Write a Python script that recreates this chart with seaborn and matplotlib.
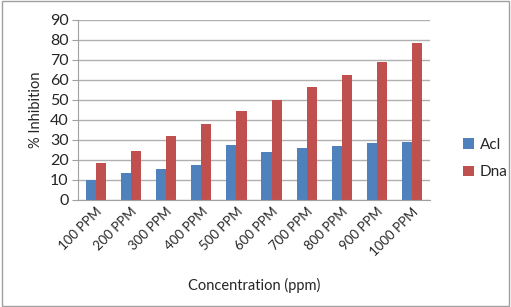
import pandas as pd
import seaborn as sns
import matplotlib.pyplot as plt
from matplotlib.patches import Rectangle

# Veriler
concentrations = ['100 PPM', '200 PPM', '300 PPM', '400 PPM', '500 PPM',
                  '600 PPM', '700 PPM', '800 PPM', '900 PPM', '1000 PPM']
acl_values = [9.7, 13.3, 15.3, 17.3, 27.3, 24.0, 25.7, 26.7, 28.2, 28.7]
dna_values = [18.3, 24.3, 31.7, 37.7, 44.7, 50.0, 56.3, 62.7, 69.0, 78.7]
series_names = ['Acl', 'Dna']

df = pd.DataFrame({
    'conc': concentrations * 2,
    'value': acl_values + dna_values,
    'series': [series_names[0]] * len(acl_values) + [series_names[1]] * len(dna_values),
})

sns.set_style("white")
plt.rcParams['font.family'] = ['Lato', 'DejaVu Sans']

fig = plt.figure(figsize=(5.11, 3.07), dpi=100)
ax = fig.add_axes([0.153, 0.349, 0.688, 0.586])

sns.barplot(data=df, x='conc', y='value', hue='series', order=concentrations,
            palette=['#4F81BD', '#C0504D'], width=0.58, gap=0, ax=ax,
            saturation=1, edgecolor='none', errorbar=None)

ax.set_ylim(0, 90)
ax.set_yticks(range(0, 91, 10))
ax.yaxis.grid(True, color='#B0B0B0', linewidth=1)
ax.set_axisbelow(True)
for s in ['top', 'right']:
    ax.spines[s].set_visible(False)
ax.spines['left'].set_color('#A0A0A0')
ax.spines['bottom'].set_color('#A0A0A0')
ax.tick_params(axis='y', length=4, color='#A0A0A0', labelsize=11.5, pad=3, left=True)
ax.tick_params(axis='x', length=0, labelsize=9.5, pad=4)
plt.setp(ax.get_xticklabels(), rotation=45, ha='right', rotation_mode='anchor')

ax.set_xlabel('Concentration (ppm)', fontsize=10.5, labelpad=14)
ax.set_ylabel('% Inhibition', fontsize=10.5, labelpad=5)

leg = ax.legend(loc='center left', bbox_to_anchor=(1.055, 0.23), frameon=False,
                fontsize=11, handlelength=0.7, handleheight=0.7, handletextpad=0.4,
                labelspacing=0.9)

# Dış çerçeve
fig.patches.append(Rectangle((0.003, 0.003), 0.994, 0.994, transform=fig.transFigure,
                             fill=False, edgecolor='#A0A0A0', linewidth=1))

plt.savefig('out.png', dpi=100)
